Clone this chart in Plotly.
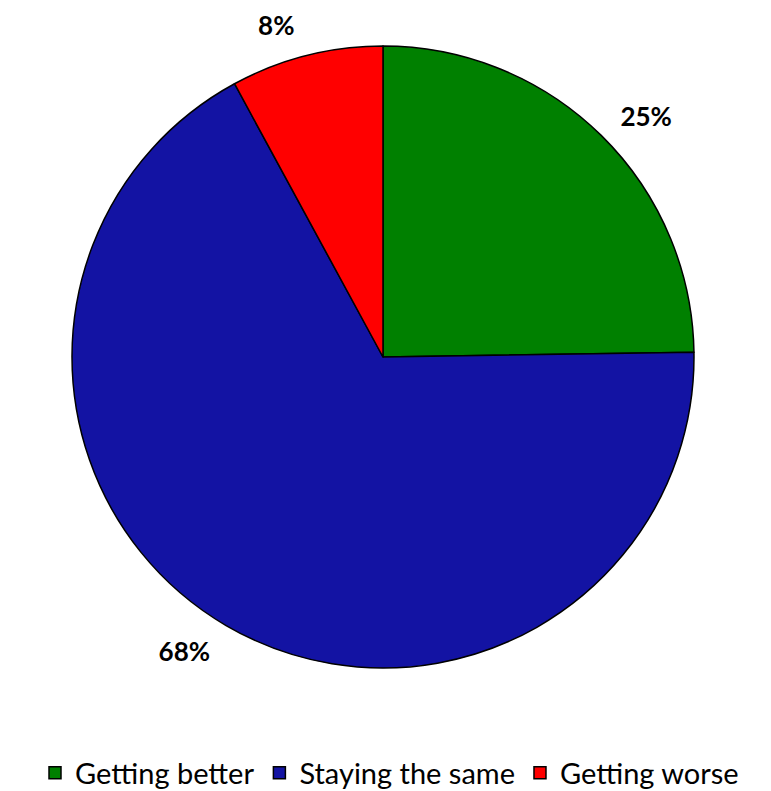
import plotly.graph_objects as go

categories = ["Getting better", "Staying the same", "Getting worse"]
shares = [25, 68, 8]
colors = ["#008000", "#1313a3", "#ff0000"]

# the page body has an 8px margin, so the figure is drawn from (8, 8)
W, H = 763, 783
plot_h = 712  # plot area height (bottom margin holds the legend)
FONT = "Lato, Calibri, Arial"
cx, cy, r = 375, 349, 311   # pie centre / radius in figure pixels
r_lab = 327                 # radius of the invisible label pie

fig = go.Figure()

# visible pie, no text
fig.add_trace(go.Pie(
    labels=categories, values=shares, sort=False, direction="clockwise", rotation=0,
    marker=dict(colors=colors, line=dict(color="black", width=1.5)),
    textinfo="none", hoverinfo="label+percent",
    domain=dict(x=[(cx - r) / W, (cx + r) / W], y=[1 - (cy + r) / plot_h, 1 - (cy - r) / plot_h]),
    showlegend=True,
))

# invisible, larger pie that carries the outside percentage labels
fig.add_trace(go.Pie(
    labels=categories, values=shares, sort=False, direction="clockwise", rotation=0,
    marker=dict(colors=["rgba(0,0,0,0)"] * 3, line=dict(width=0)),
    texttemplate=[f"<b>{v}%</b>" for v in shares], textposition="outside",
    outsidetextfont=dict(size=26, color="black", family=FONT),
    hoverinfo="skip", showlegend=False,
    domain=dict(x=[(cx - r_lab) / W, (cx + r_lab) / W],
                y=[1 - (cy + r_lab) / plot_h, 1 - (cy - r_lab) / plot_h]),
))

fig.update_layout(
    width=W, height=H,
    margin=dict(l=0, r=0, t=0, b=H - plot_h, autoexpand=False),
    paper_bgcolor="white", plot_bgcolor="white",
    font=dict(family=FONT, size=26, color="black"),
    legend=dict(orientation="h", x=0.5, xanchor="center", xref="container",
                y=(H - 765) / H, yanchor="middle", yref="container",
                font=dict(size=29), itemwidth=30, traceorder="normal"),
)

fig.write_html("out.html")
